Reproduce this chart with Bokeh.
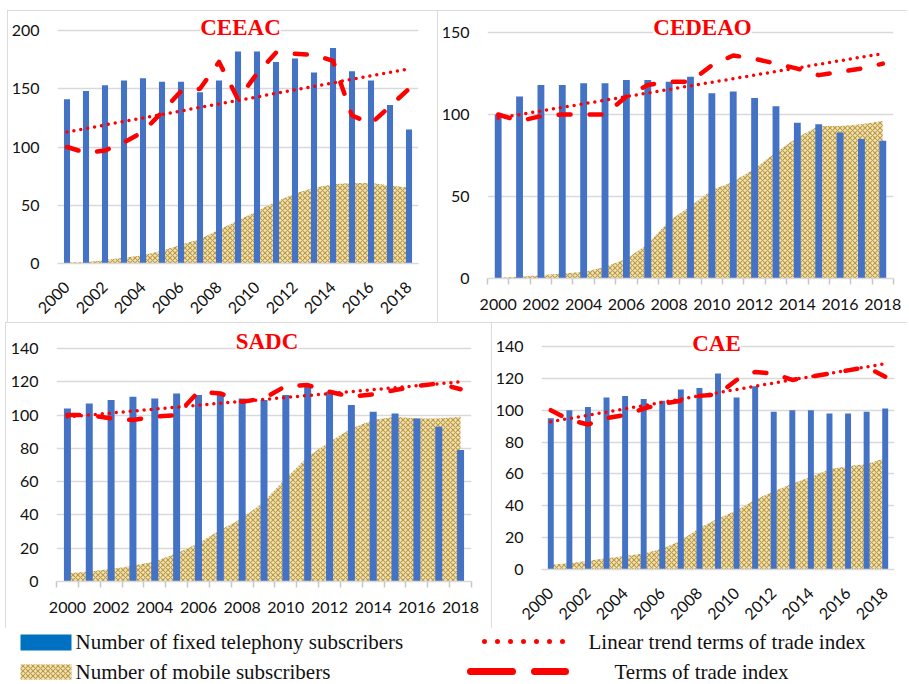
import math
import numpy as np
from bokeh.plotting import figure
from bokeh.layouts import column, row
from bokeh.models import Range1d, FixedTicker, Label, Spacer
from bokeh.core.properties import value
from bokeh.embed import file_html
from bokeh.resources import INLINE

# ---------------- data ----------------
years = list(range(2000, 2019))
year_labels = list(range(2000, 2019, 2))

ceeac_fixed = [141, 148, 153, 157, 159, 156, 156, 147, 157, 182, 182, 173, 176, 164, 185, 165, 157, 136, 115]
ceeac_mobile = [1, 1, 3, 5, 7, 11, 16, 21, 29, 37, 45, 53, 60, 65, 68, 69, 69, 67, 65]
ceeac_tot = [100, 95, 97, 104, 113, 130, 148, 150, 173, 141, 163, 181, 180, 179, 174, 127, 120, 135, 150]

cedeao_fixed = [100, 111, 118, 118, 119, 119, 121, 121, 120, 123, 113, 114, 110, 105, 95, 94, 89, 85, 84]
cedeao_mobile = [0.5, 1, 2, 3, 4, 7, 12, 21, 35, 44, 54, 59, 67, 77, 86, 93, 93, 94, 96]
cedeao_tot = [100, 96, 99, 100, 100, 100, 111, 118, 120, 120, 130, 136, 134, 131, 128, 124, 126, 128, 131]

sadc_fixed = [104, 107, 109, 111, 110, 113, 112, 112, 110, 109, 112, 118, 114, 106, 102, 101, 98, 93, 79]
sadc_mobile = [5, 6, 7.5, 9.5, 12, 17, 23, 31, 38, 48, 62, 75, 84, 92, 97, 99, 98, 98, 99]
sadc_tot = [100, 100, 98, 97, 99, 100, 114, 113, 108, 110, 117.5, 118, 114, 111, 112.5, 115, 117.5, 119, 115.5]

cae_fixed = [95, 100, 102, 108, 109, 107, 106, 113, 114, 123, 108, 115, 99, 100, 100, 98, 98, 99, 101]
cae_mobile = [3, 4, 5.5, 7, 8.5, 10, 13, 18, 26, 32, 37, 44, 49, 54, 58, 63, 65, 66, 70]
cae_tot = [100, 94, 91, 95, 97, 101, 104, 106, 109, 110, 119, 124, 123, 119, 121, 123, 125, 127, 121]

legend_labels = ["Number of fixed telephony subscribers", "Number of mobile subscribers",
                 "Linear trend terms of trade index", "Terms of trade index"]

# ---------------- style ----------------
BAR = "#4472C4"
RED = "#FF0000"
GRID = "#d9d9d9"
AREA_FILL = "#EFE4C2"
AREA_HATCH = "#C09B3C"
TICK_FONT = "Lato"
BORDER = {"outline": "1px solid #d0d0d0", "outline-offset": "-1px"}


def make_panel(name, fixed, mobile, tot, ymax, ystep, w, h, mb, rotated, tdx, tdy):
    left, right, top, bottom = mb
    # extend the frame upward so the title sits inside it (not clipped)
    new_top = 2
    extra_units = (top - new_top) * ymax / (h - top - bottom)
    p = figure(width=w, height=h, x_range=Range1d(1999.5, 2018.5),
               y_range=Range1d(0, ymax + extra_units),
               output_backend="svg", toolbar_location=None,
               min_border_left=left, min_border_right=right,
               min_border_top=new_top, min_border_bottom=bottom,
               background_fill_color="white", border_fill_color="white",
               styles=BORDER)
    p.outline_line_color = None

    p.varea(x=years, y1=0, y2=mobile, fill_color=AREA_FILL, hatch_pattern="x",
            hatch_color=AREA_HATCH, hatch_scale=5, hatch_weight=1.1)
    p.vbar(x=years, top=fixed, width=0.32, fill_color=BAR, line_color=None)

    slope, icpt = np.polyfit(years, tot, 1)
    trend = [slope * y + icpt for y in years]
    p.line(years, trend, line_color=RED, line_width=3.5, line_dash="0 7", line_cap="round")
    p.line(years, tot, line_color=RED, line_width=4.5, line_dash="12 19",
           line_cap="round", line_join="round")

    ax = p.xaxis[0]
    ax.axis_line_color = GRID
    ax.axis_line_width = 1.5
    ax.major_tick_line_color = None
    ax.major_tick_in = 0
    ax.major_tick_out = 0
    ax.major_label_text_font = TICK_FONT
    ax.major_label_text_font_size = "16px"
    ax.major_label_text_color = "#111111"
    ax.ticker = FixedTicker(ticks=year_labels,
                            minor_ticks=[y - 0.5 for y in range(2000, 2020)])
    if rotated:
        ax.major_label_orientation = math.pi / 4
        ax.minor_tick_line_color = None
        ax.major_label_standoff = 17
    else:
        ax.minor_tick_line_color = "#c8c8c8"
        ax.minor_tick_line_width = 1.5
        ax.minor_tick_in = 0
        ax.minor_tick_out = 6
        ax.major_label_standoff = 14

    ay = p.yaxis[0]
    ay.ticker = FixedTicker(ticks=list(range(0, ymax + 1, ystep)))
    ay.axis_line_color = None
    ay.major_tick_line_color = None
    ay.minor_tick_line_color = None
    ay.major_tick_in = 0
    ay.major_tick_out = 0
    ay.major_label_standoff = 18
    ay.major_label_text_font = TICK_FONT
    ay.major_label_text_font_size = "16px"
    ay.major_label_text_color = "#111111"

    p.xgrid.grid_line_color = None
    p.ygrid.grid_line_color = GRID
    p.ygrid.grid_line_width = 1.5

    p.add_layout(Label(x=2009, y=ymax, text=name, text_font="Liberation Serif",
                       text_font_style="bold", text_font_size="23px", text_color=RED,
                       text_align="center", text_baseline="middle",
                       x_offset=tdx, y_offset=tdy, background_fill_color="white"))
    return p


p1 = make_panel("CEEAC", ceeac_fixed, ceeac_mobile, ceeac_tot, 200, 50, 430, 312,
                (50, 19, 20, 59), True, 2.5, 3)
p2 = make_panel("CEDEAO", cedeao_fixed, cedeao_mobile, cedeao_tot, 150, 50, 470, 312,
                (50, 14, 22, 44), False, 12, 5)
p3 = make_panel("SADC", sadc_fixed, sadc_mobile, sadc_tot, 140, 20, 486, 306,
                (51, 20, 26, 47), False, 3, 7)
p4 = make_panel("CAE", cae_fixed, cae_mobile, cae_tot, 140, 20, 416, 306,
                (50, 13, 24, 59), True, -1.5, 3.5)

# ---------------- legend ----------------
leg = figure(width=907, height=54, x_range=Range1d(0, 907), y_range=Range1d(682, 628),
             output_backend="svg", toolbar_location=None, min_border=0,
             min_border_left=0, min_border_right=0, min_border_top=0, min_border_bottom=0,
             x_axis_type=None, y_axis_type=None, background_fill_color="white",
             border_fill_color="white")
leg.outline_line_color = None

row1_y, row2_y = 641, 671
leg.quad(left=[20], right=[71], top=[634], bottom=[650], fill_color="#0070C0", line_color=None)
leg.quad(left=[20], right=[71], top=[664], bottom=[679], fill_color=AREA_FILL,
         hatch_pattern="x", hatch_color=AREA_HATCH, hatch_scale=5, hatch_weight=1.1,
         line_color=None)
leg.line([484, 565], [row1_y, row1_y], line_color=RED, line_width=5, line_dash="0 13",
         line_cap="round")
leg.line([470, 565], [row2_y, row2_y], line_color=RED, line_width=7, line_dash="42 22",
         line_cap="round")
leg.text(x=[75, 75, 588, 614], y=[row1_y, row2_y, row1_y, row2_y], text=legend_labels,
         text_font=value("Liberation Serif"), text_font_size=value("21px"),
         text_color="#111111", text_baseline="middle", text_align="left")

# each panel in its own column so that Bokeh does not align the frames of a row
layout = column(Spacer(width=907, height=10),
                row(Spacer(width=7, height=312), column(p1), column(p2)),
                row(Spacer(width=5, height=306), column(p3), column(p4)),
                leg)

open("out.html", "w").write(file_html(layout, INLINE))
